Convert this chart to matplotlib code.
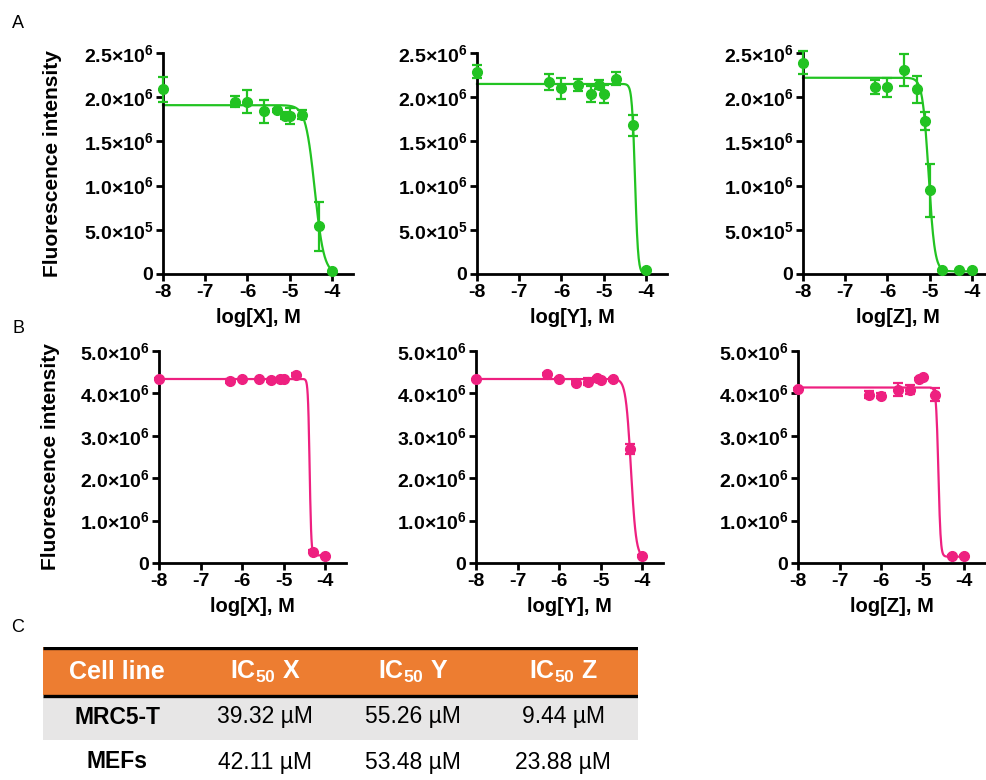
import numpy as np
import matplotlib
matplotlib.use('Agg')
import matplotlib.pyplot as plt
from matplotlib.patches import Rectangle

plt.rcParams['font.family'] = ['Liberation Sans', 'DejaVu Sans']
plt.rcParams['mathtext.fontset'] = 'custom'
plt.rcParams['mathtext.rm'] = 'Liberation Sans:bold'
plt.rcParams['mathtext.it'] = 'Liberation Sans:bold'
plt.rcParams['mathtext.bf'] = 'Liberation Sans:bold'

# log concentrations used in every titration
log_conc = [-8, -6.3, -6, -5.6, -5.3, -5.1, -5, -4.7, -4.3, -4]

# fluorescence, in units of 1e6
a_x_mean = [2.09, 1.95, 1.95, 1.84, 1.85, 1.79, 1.79, 1.80, 0.54, 0.03]
a_x_err = [0.14, 0.06, 0.13, 0.13, 0.02, 0.04, 0.09, 0.05, 0.28, 0.0]
a_y_mean = [2.29, 2.17, 2.10, 2.14, 2.04, 2.14, 2.04, 2.21, 1.68, 0.05]
a_y_err = [0.07, 0.09, 0.12, 0.07, 0.09, 0.05, 0.10, 0.07, 0.12, 0.0]
a_z_mean = [2.39, 2.12, 2.11, 2.31, 2.09, 1.73, 0.95, 0.04, 0.04, 0.04]
a_z_err = [0.13, 0.08, 0.11, 0.18, 0.15, 0.10, 0.30, 0.0, 0.0, 0.0]

b_x_mean = [4.35, 4.29, 4.33, 4.33, 4.31, 4.33, 4.33, 4.44, 0.27, 0.16]
b_x_err = [0.02, 0.04, 0.02, 0.02, 0.03, 0.03, 0.03, 0.03, 0.04, 0.03]
b_y_mean = [4.33, 4.46, 4.34, 4.25, 4.28, 4.36, 4.32, 4.33, 2.68, 0.16]
b_y_err = [0.02, 0.03, 0.03, 0.04, 0.08, 0.03, 0.03, 0.03, 0.12, 0.02]
b_z_mean = [4.10, 3.97, 3.95, 4.09, 4.09, 4.34, 4.38, 3.97, 0.16, 0.16]
b_z_err = [0.02, 0.08, 0.06, 0.15, 0.10, 0.03, 0.03, 0.15, 0.02, 0.02]

# sigmoid fit parameters (top, bottom in 1e6, hill slope)
a_fit_top = [1.91, 2.15, 2.22]
a_fit_bottom = [0.0, 0.0, 0.03]
a_fit_hill = [4, 12, 6]
b_fit_top = [4.34, 4.34, 4.14]
b_fit_bottom = [0.18, 0.12, 0.15]
b_fit_hill = [22, 7, 16]

# IC50 table (uM)
compounds = ['X', 'Y', 'Z']
cell_lines = ['MRC5-T', 'MEFs']
ic50_mrc5 = [39.32, 55.26, 9.44]
ic50_mefs = [42.11, 53.48, 23.88]

a_yticks = [0, 0.5, 1.0, 1.5, 2.0, 2.5]
a_ytick_labels = ['0', '5.0×10$^{5}$', '1.0×10$^{6}$', '1.5×10$^{6}$', '2.0×10$^{6}$', '2.5×10$^{6}$']
b_yticks = [0, 1, 2, 3, 4, 5]
b_ytick_labels = ['0', '1.0×10$^{6}$', '2.0×10$^{6}$', '3.0×10$^{6}$', '4.0×10$^{6}$', '5.0×10$^{6}$']
xticks = [-8, -7, -6, -5, -4]

GREEN = '#22c322'
PINK = '#ee2080'
ORANGE = '#ed7d31'
GREY = '#e7e6e6'


def plot_panel(ax, mean, err, top, bottom, hill, ic50_um, color, yticks, ylabels, xname, ylabel=None):
    logic50 = np.log10(ic50_um * 1e-6)
    xs = np.linspace(-8, -4, 400)
    ys = bottom + (top - bottom) / (1 + 10 ** ((xs - logic50) * hill))
    ax.plot(xs, ys, color=color, lw=1.6, clip_on=False, zorder=2)
    ax.errorbar(log_conc, mean, yerr=err, fmt='o', color=color, ms=7,
                elinewidth=1.6, capsize=3.5, capthick=1.6, clip_on=False, zorder=3)
    ax.set_xlim(-8, -3.5)
    ax.set_ylim(0, yticks[-1])
    ax.set_xticks(xticks)
    ax.set_xticklabels([str(t) for t in xticks], fontsize=14, fontweight='bold')
    ax.set_yticks(yticks)
    ax.set_yticklabels(ylabels, fontsize=14, fontweight='bold')
    for s in ['top', 'right']:
        ax.spines[s].set_visible(False)
    for s in ['left', 'bottom']:
        ax.spines[s].set_linewidth(2)
    ax.tick_params(direction='out', length=5, width=2, pad=2)
    ax.set_xlabel('log[' + xname + '], M', fontsize=14.5, fontweight='bold', labelpad=5)
    if ylabel:
        ax.set_ylabel(ylabel, fontsize=15, fontweight='bold')
        ax.yaxis.set_label_coords(-0.53, 0.5)


def draw_table(ax):
    ax.set_xlim(0, 595)
    ax.set_ylim(133, 0)
    ax.axis('off')
    ax.add_patch(Rectangle((0, 0), 595, 48, color=ORANGE, lw=0))
    ax.add_patch(Rectangle((0, 50), 595, 43, color=GREY, lw=0))
    ax.plot([0, 595], [1.2, 1.2], color='black', lw=2.4, solid_capstyle='butt')
    ax.plot([0, 595], [48.8, 48.8], color='black', lw=2.4, solid_capstyle='butt')
    col_x = [74, 222, 370, 520]
    ax.text(col_x[0], 25, 'Cell line', ha='center', va='center', color='white',
            fontsize=18, fontweight='bold')
    for i, c in enumerate(compounds):
        ax.text(col_x[i + 1], 25, r'IC$_{50}$ ' + c, ha='center', va='center',
                color='white', fontsize=18, fontweight='bold')
    for row_y, name, vals in [(70, cell_lines[0], ic50_mrc5), (115, cell_lines[1], ic50_mefs)]:
        ax.text(col_x[0], row_y, name, ha='center', va='center', fontsize=16.5, fontweight='bold')
        for i, v in enumerate(vals):
            ax.text(col_x[i + 1], row_y, '%.2f µM' % v, ha='center', va='center', fontsize=16.5)


fig = plt.figure(figsize=(9.86, 7.8), dpi=100)
W, H = 986.0, 780.0

top_lefts = [163, 477, 803]
bot_lefts = [159, 476, 798]
top_axes = [fig.add_axes([l / W, 1 - 274 / H, 190 / W, 221 / H]) for l in top_lefts]
bot_axes = [fig.add_axes([l / W, 1 - 563 / H, 187 / W, 212 / H]) for l in bot_lefts]

a_means = [a_x_mean, a_y_mean, a_z_mean]
a_errs = [a_x_err, a_y_err, a_z_err]
b_means = [b_x_mean, b_y_mean, b_z_mean]
b_errs = [b_x_err, b_y_err, b_z_err]

for i in range(3):
    plot_panel(top_axes[i], a_means[i], a_errs[i], a_fit_top[i], a_fit_bottom[i], a_fit_hill[i],
               ic50_mrc5[i], GREEN, a_yticks, a_ytick_labels, compounds[i],
               'Fluorescence intensity' if i == 0 else None)
    plot_panel(bot_axes[i], b_means[i], b_errs[i], b_fit_top[i], b_fit_bottom[i], b_fit_hill[i],
               ic50_mefs[i], PINK, b_yticks, b_ytick_labels, compounds[i],
               'Fluorescence intensity' if i == 0 else None)

table_ax = fig.add_axes([43 / W, 0, 595 / W, 133 / H])
draw_table(table_ax)

for letter, y in [('A', 23), ('B', 328), ('C', 627)]:
    fig.text(18 / W, 1 - y / H, letter, fontsize=13, ha='center', va='center')

fig.savefig('out.png', dpi=100)
